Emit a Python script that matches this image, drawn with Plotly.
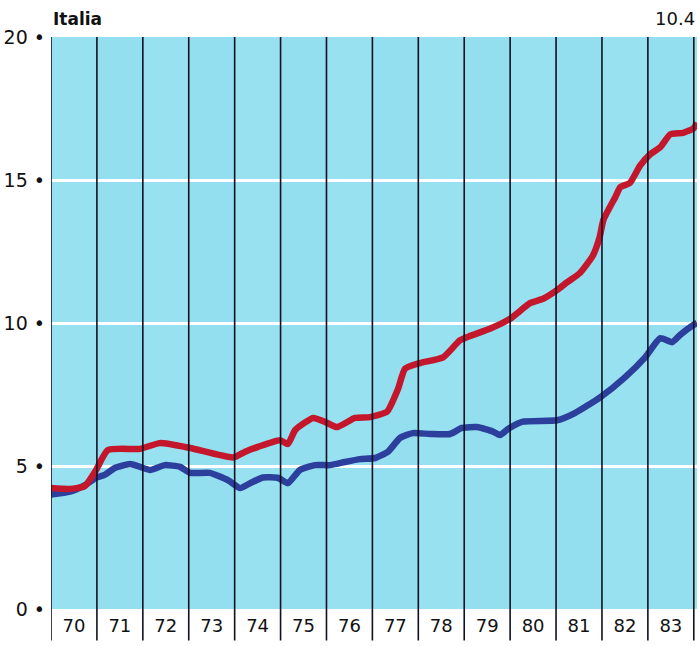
import plotly.graph_objects as go

# ---- data ----
red_x = [1970.0, 1970.41, 1970.74, 1970.96, 1971.24, 1971.94, 1972.37, 1973.03, 1973.97,
         1974.23, 1974.51, 1974.99, 1975.16, 1975.32, 1975.71, 1975.97, 1976.23, 1976.62,
         1976.95, 1977.32, 1977.56, 1977.71, 1978.04, 1978.54, 1978.91, 1979.13, 1979.56,
         1980.0, 1980.44, 1980.72, 1981.02, 1981.22, 1981.52, 1981.8, 1981.95, 1982.03,
         1982.29, 1982.4, 1982.61, 1982.83, 1983.05, 1983.27, 1983.49, 1983.77, 1983.99, 1984.07]
red_y = [4.23, 4.2, 4.3, 4.8, 5.56, 5.6, 5.8, 5.63, 5.3,
         5.5, 5.67, 5.9, 5.77, 6.26, 6.68, 6.54, 6.36, 6.68,
         6.71, 6.9, 7.7, 8.4, 8.6, 8.8, 9.4, 9.55, 9.8,
         10.15, 10.7, 10.85, 11.15, 11.4, 11.75, 12.35, 13.0, 13.6,
         14.4, 14.75, 14.9, 15.5, 15.9, 16.15, 16.6, 16.65, 16.8, 17.0]

blue_x = [1970.0, 1970.41, 1970.74, 1971.0, 1971.18, 1971.39, 1971.72, 1971.94, 1972.16,
          1972.48, 1972.81, 1973.03, 1973.46, 1973.86, 1974.12, 1974.34, 1974.62, 1974.95,
          1975.16, 1975.42, 1975.75, 1976.08, 1976.4, 1976.73, 1977.06, 1977.34, 1977.6,
          1977.88, 1978.26, 1978.69, 1978.95, 1979.28, 1979.63, 1979.78, 1979.96, 1980.28,
          1981.02, 1981.41, 1981.96, 1982.5, 1982.94, 1983.27, 1983.53, 1983.7, 1983.99, 1984.07]
blue_y = [4.0, 4.1, 4.33, 4.6, 4.7, 4.93, 5.07, 4.97, 4.86,
          5.03, 4.97, 4.76, 4.76, 4.5, 4.23, 4.4, 4.6, 4.58,
          4.4, 4.86, 5.03, 5.03, 5.14, 5.24, 5.28, 5.5, 5.98,
          6.15, 6.12, 6.12, 6.33, 6.36, 6.2, 6.08, 6.3, 6.55,
          6.6, 6.85, 7.4, 8.1, 8.8, 9.47, 9.33, 9.58, 9.93, 10.0]

years = list(range(1970, 1984))
year_labels = [str(y - 1900) for y in years]
y_ticks = [0, 5, 10, 15, 20]
y_tick_labels = ["0 •", "5 •", "10 •", "15 •", "20 •"]

FONT = "DejaVu Sans, Liberation Sans, sans-serif"
CYAN_A = "#97e1f1"
CYAN_B = "#93dfef"

fig = go.Figure()
fig.add_trace(go.Scatter(x=blue_x, y=blue_y, mode="lines",
                         line=dict(color="#2d3f9c", width=6.5, shape="spline", smoothing=0.5),
                         showlegend=False, hoverinfo="skip"))
fig.add_trace(go.Scatter(x=red_x, y=red_y, mode="lines",
                         line=dict(color="#c4172c", width=6.5, shape="spline", smoothing=0.5),
                         showlegend=False, hoverinfo="skip"))

shapes = []
# alternating column shades
for i, yr in enumerate(years):
    shapes.append(dict(type="rect", xref="x", yref="y", x0=yr, x1=yr + 1, y0=0, y1=20,
                       fillcolor=CYAN_A if i % 2 == 0 else CYAN_B, line=dict(width=0),
                       layer="below"))
# vertical year dividers extending below plot
for yr in years + [1984]:
    shapes.append(dict(type="line", xref="x", yref="paper", x0=yr, x1=yr, y0=-0.055, y1=1,
                       line=dict(color="#111122", width=1.6), layer="above"))

fig.update_layout(
    width=699, height=646,
    margin=dict(l=51, r=2, t=37, b=37),
    paper_bgcolor="white",
    plot_bgcolor=CYAN_A,
    shapes=shapes,
    font=dict(family=FONT, size=18, color="#111111"),
    xaxis=dict(range=[1970, 1984.07], tickvals=[y + 0.5 for y in years], ticktext=year_labels,
               showgrid=False, zeroline=False, showline=False, ticks="", fixedrange=True,
               tickfont=dict(size=18), ticklabelstandoff=4),
    yaxis=dict(range=[0, 20], tickvals=y_ticks, ticktext=y_tick_labels,
               showgrid=True, gridcolor="white", gridwidth=2.5, zeroline=False,
               showline=False, ticks="", tickfont=dict(size=19), ticklabelstandoff=5,
               fixedrange=True),
    annotations=[
        dict(text="<b>Italia</b>", xref="paper", yref="paper", x=0.0, y=1.0, xanchor="left",
             yanchor="bottom", yshift=6, showarrow=False, font=dict(size=17, family=FONT)),
        dict(text="10.4", xref="paper", yref="paper", x=1.0, y=1.0, xanchor="right",
             yanchor="bottom", yshift=6, showarrow=False, font=dict(size=18, family=FONT)),
    ],
)

fig.write_html("out.html", config={"displayModeBar": False},
               post_script="document.body.style.margin='0px';document.body.style.padding='0px';")
